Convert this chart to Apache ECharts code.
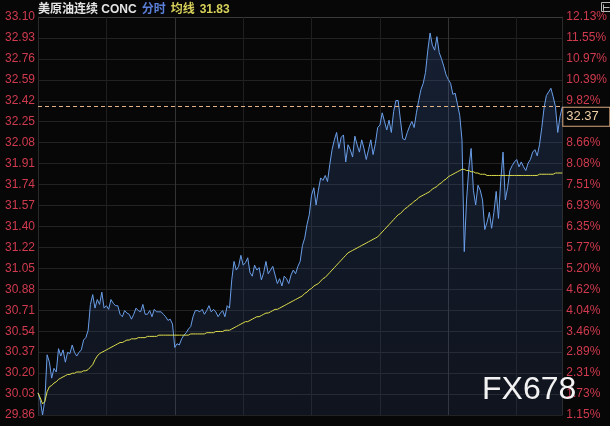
<!DOCTYPE html>
<html>
<head>
<meta charset="utf-8">
<script src="https://cdn.jsdelivr.net/npm/echarts@6/dist/echarts.min.js"></script>
<style>
html,body{margin:0;padding:0;background:#070707;}
#c{width:610px;height:426px;}
</style>
</head>
<body>
<div id="c"></div>
<script>
// ---- data ----
const instrument = '美原油连续 CONC';
const yMin = 29.86;
const yMax = 33.10;
const leftLabels = ['29.86','30.03','30.20','30.37','30.54','30.71','30.88','31.05','31.22','31.40','31.57','31.74','31.91','32.08','32.25','32.42','32.59','32.76','32.93','33.10'];
const rightLabels = ['1.15%','1.73%','2.31%','2.89%','3.46%','4.04%','4.62%','5.20%','5.77%','6.35%','6.93%','7.51%','8.08%','8.66%','9.24%','9.82%','10.39%','10.97%','11.55%','12.13%'];
const lastPrice = 32.37;

const prices = [
30.04,29.98,29.86,29.98,30.35,30.29,30.16,30.24,30.21,30.40,
30.34,30.39,30.29,30.37,30.36,30.43,30.37,30.34,30.37,30.39,
30.47,30.49,30.55,30.76,30.84,30.73,30.80,30.76,30.86,30.73,
30.75,30.72,30.80,30.77,30.75,30.75,30.68,30.66,30.71,30.69,
30.68,30.64,30.68,30.73,30.71,30.70,30.76,30.68,30.68,30.71,
30.66,30.72,30.70,30.70,30.70,30.68,30.66,30.63,30.64,30.60,
30.41,30.44,30.43,30.48,30.51,30.53,30.56,30.58,30.66,30.71,
30.71,30.70,30.72,30.68,30.71,30.75,30.70,30.72,30.70,30.66,
30.69,30.71,30.66,30.75,30.73,30.96,31.11,31.04,31.07,31.16,
31.08,31.10,31.14,31.02,30.99,31.08,31.04,31.06,30.96,31.02,
31.11,31.01,31.04,31.07,31.00,30.93,30.97,30.91,30.99,30.97,
30.93,31.00,31.04,31.01,31.07,31.11,31.24,31.30,31.41,31.49,
31.65,31.71,31.57,31.69,31.79,31.77,31.81,31.76,31.90,32.02,
32.10,32.16,32.03,32.12,32.14,31.92,32.06,32.02,31.96,32.13,
32.06,32.00,32.10,32.03,31.94,32.02,32.10,31.98,32.07,32.20,
32.22,32.32,32.25,32.18,32.26,32.16,32.33,32.42,32.42,32.26,
32.11,32.10,32.16,32.21,32.25,32.20,32.32,32.42,32.51,32.56,
32.65,32.83,32.97,32.87,32.83,32.94,32.81,32.76,32.70,32.63,
32.59,32.56,32.47,32.48,32.39,32.30,32.10,31.19,31.61,31.87,
32.03,31.69,31.57,31.73,31.69,31.61,31.37,31.43,31.51,31.38,
31.51,31.68,31.46,31.77,32.00,31.61,31.71,31.85,31.89,31.92,
31.94,31.88,31.92,31.88,31.85,31.91,31.94,32.00,32.02,31.97,
32.06,32.20,32.36,32.46,32.49,32.52,32.45,32.37,32.16,32.29,
32.37
];

const avgLine = [
30.04,30.00,29.95,29.97,30.05,30.09,30.10,30.12,30.13,30.15,
30.16,30.17,30.18,30.19,30.19,30.20,30.20,30.21,30.21,30.21,
30.22,30.22,30.23,30.25,30.27,30.31,30.34,30.36,30.37,30.38,
30.39,30.40,30.41,30.42,30.43,30.44,30.45,30.45,30.46,30.47,
30.47,30.48,30.48,30.48,30.49,30.49,30.49,30.49,30.50,30.50,
30.50,30.50,30.50,30.51,30.51,30.51,30.51,30.51,30.51,30.51,
30.51,30.51,30.51,30.51,30.51,30.51,30.51,30.52,30.52,30.52,
30.52,30.52,30.52,30.52,30.53,30.53,30.53,30.53,30.54,30.54,
30.54,30.54,30.55,30.55,30.55,30.56,30.57,30.58,30.59,30.60,
30.61,30.62,30.62,30.63,30.64,30.65,30.66,30.66,30.67,30.68,
30.69,30.69,30.70,30.71,30.72,30.72,30.73,30.74,30.75,30.76,
30.77,30.78,30.79,30.80,30.81,30.82,30.83,30.85,30.86,30.88,
30.89,30.91,30.92,30.93,30.95,30.97,30.98,31.00,31.02,31.04,
31.06,31.08,31.10,31.12,31.14,31.16,31.18,31.19,31.20,31.21,
31.22,31.23,31.24,31.25,31.26,31.27,31.28,31.29,31.30,31.31,
31.33,31.35,31.37,31.39,31.41,31.43,31.45,31.47,31.49,31.50,
31.52,31.54,31.55,31.57,31.58,31.60,31.61,31.63,31.64,31.65,
31.66,31.67,31.68,31.70,31.71,31.72,31.74,31.75,31.77,31.78,
31.80,31.81,31.82,31.83,31.84,31.85,31.86,31.86,31.85,31.85,
31.84,31.84,31.83,31.83,31.82,31.82,31.82,31.81,31.81,31.81,
31.81,31.81,31.81,31.81,31.81,31.81,31.81,31.81,31.81,31.81,
31.81,31.81,31.81,31.81,31.81,31.81,31.81,31.81,31.81,31.81,
31.82,31.82,31.82,31.82,31.82,31.82,31.82,31.83,31.83,31.83,
31.83
];

// categories: 06:00 -> 05:00 next day, one slot per 6 minutes
const categories = [];
for (let m = 0; m <= 1380; m += 6) {
  const t = (360 + m) % 1440;
  categories.push(String(Math.floor(t / 60)).padStart(2, '0') + ':' + String(t % 60).padStart(2, '0'));
}

// ---- chart ----
const yStep = (yMax - yMin) / 19;
const chart = echarts.init(document.getElementById('c'), null, {renderer: 'canvas'});
const labelColor = '#d03a4e';
const fontFam = 'Arial, "Liberation Sans", "Noto Sans CJK SC", sans-serif';

const option = {
  backgroundColor: '#070707',
  animation: false,
  title: {
    left: 36, top: 0, padding: [1, 2],
    text: '{a|' + instrument + '} {b|分时} {c|均线} {c|' + avgLine[avgLine.length - 1].toFixed(2) + '}',
    textStyle: {
      fontFamily: fontFam,
      rich: {
        a: {color: '#e4e4e4', fontSize: 12, fontFamily: fontFam},
        b: {color: '#5a7fd8', fontSize: 12, fontFamily: fontFam},
        c: {color: '#d8d25a', fontSize: 12, fontFamily: fontFam}
      }
    }
  },
  grid: {left: 38, right: 47, top: 17, bottom: 11},
  xAxis: {
    type: 'category', data: categories, boundaryGap: false,
    axisLine: {show: false}, axisTick: {show: false}, axisLabel: {show: false},
    splitLine: {
      show: true,
      interval: function (i) { return i % 30 === 0; },
      lineStyle: {color: ['#262626', '#1f1f1f', '#333333', '#1f1f1f', '#1f1f1f', '#1f1f1f', '#333333', '#1f1f1f'], width: 1}
    }
  },
  yAxis: [
    {
      type: 'value', position: 'left', min: yMin, max: yMax, interval: yStep,
      axisLine: {show: true, lineStyle: {color: '#2a2a2a'}},
      axisTick: {show: false},
      splitLine: {show: true, lineStyle: {color: 'rgba(255,255,255,0.11)'}},
      axisLabel: {
        color: labelColor, fontSize: 12, margin: 3, fontFamily: fontFam,
        formatter: function (v) { return leftLabels[Math.round((v - yMin) / yStep)] || ''; }
      }
    },
    {
      type: 'value', position: 'right', min: yMin, max: yMax, interval: yStep,
      axisLine: {show: true, lineStyle: {color: '#2a2a2a'}},
      axisTick: {show: false},
      splitLine: {show: false},
      axisLabel: {
        color: labelColor, fontSize: 12, margin: 4, fontFamily: fontFam,
        formatter: function (v) { return rightLabels[Math.round((v - yMin) / yStep)] || ''; }
      }
    }
  ],
  series: [
    {
      name: '分时', type: 'line', data: prices, yAxisIndex: 0,
      symbol: 'none', smooth: false,
      lineStyle: {color: '#6a9ee8', width: 1},
      areaStyle: {
        color: new echarts.graphic.LinearGradient(0, 0, 0, 1, [
          {offset: 0, color: 'rgba(60,100,170,0.38)'},
          {offset: 1, color: 'rgba(45,65,110,0.32)'}
        ])
      },
      markLine: {
        silent: true, symbol: 'none',
        lineStyle: {color: '#e3b386', type: [4, 3], width: 1},
        label: {
          show: true, position: 'end', distance: 1, offset: [0, 10],
          formatter: lastPrice.toFixed(2),
          color: '#efcfa6', fontSize: 13, fontFamily: fontFam,
          backgroundColor: '#070707', borderColor: '#d9a77a', borderWidth: 1,
          padding: [3, 6, 2, 3], width: 37
        },
        data: [{yAxis: lastPrice}]
      },
      z: 3
    },
    {
      name: '均线', type: 'line', data: avgLine, yAxisIndex: 0,
      symbol: 'none', lineStyle: {color: '#dede4c', width: 1}, z: 4
    }
  ],
  graphic: [
    {
      type: 'text', left: 482, top: 374, z: 10,
      style: {text: 'FX678', fill: '#f2f2f2', font: '32px Arial, "Liberation Sans", sans-serif'}
    },
    {
      type: 'rect', left: 599, top: 0, z: 10,
      shape: {width: 9, height: 9},
      style: {fill: 'none', stroke: '#b8b8b8', lineWidth: 1}
    },
    {
      type: 'polyline', left: 601, top: 2, z: 10,
      shape: {points: [[0, 0], [0, 6], [0, 3], [6, 3]]},
      style: {fill: 'none', stroke: '#b8b8b8', lineWidth: 1}
    }
  ]
};
chart.setOption(option);
</script>
</body>
</html>
